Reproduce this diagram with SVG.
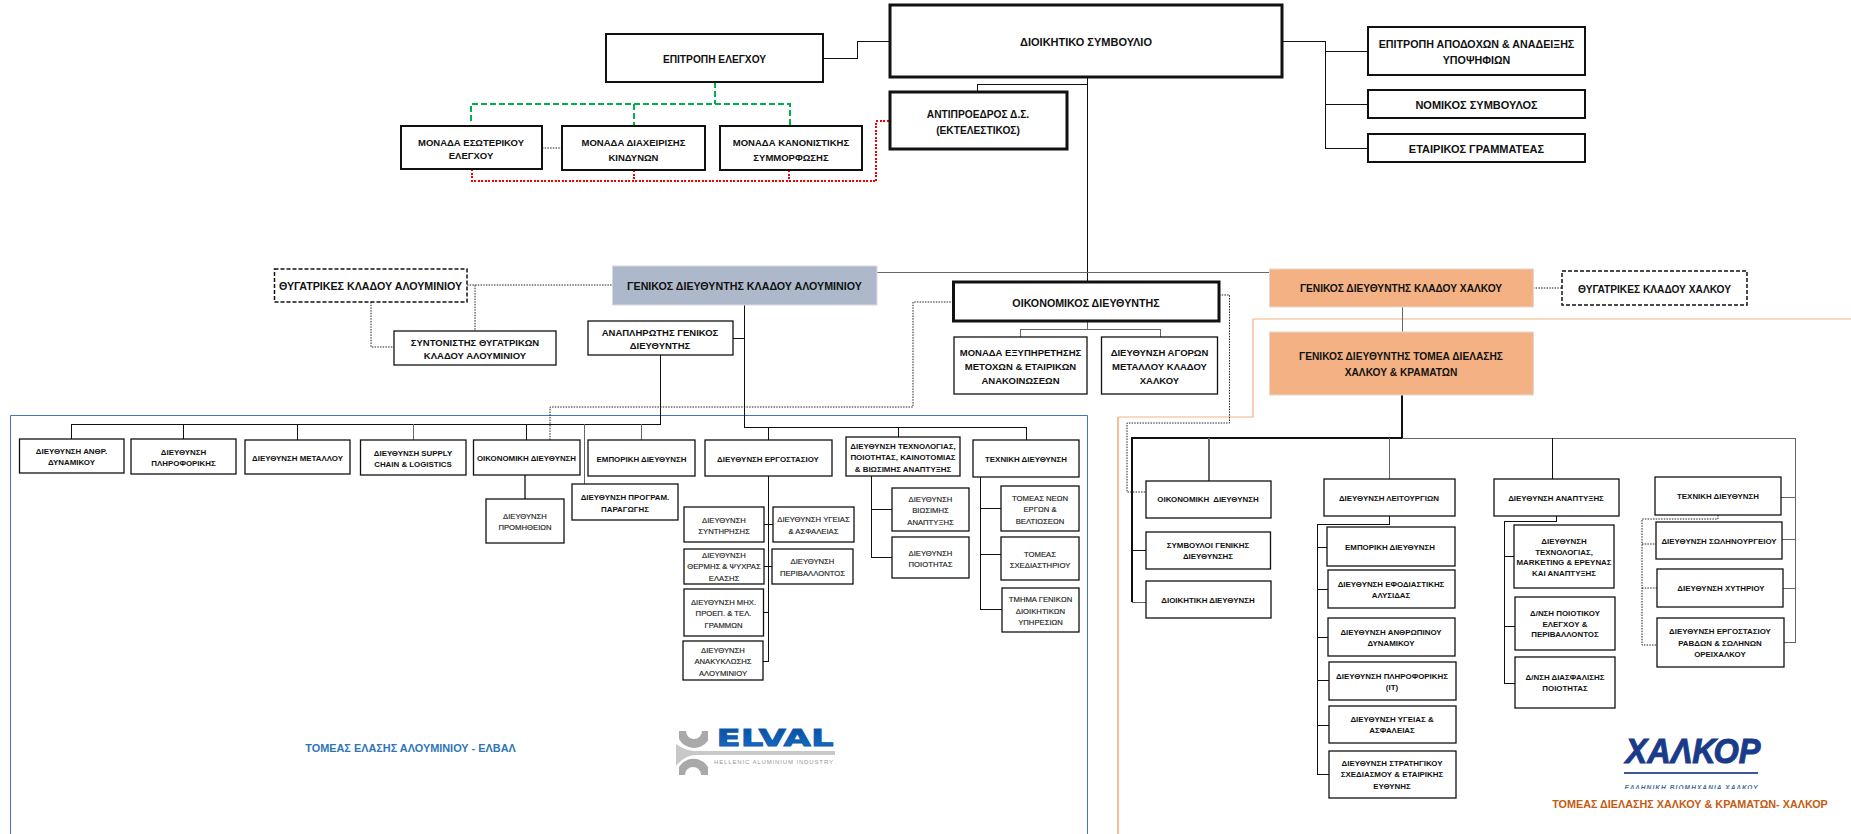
<svg xmlns="http://www.w3.org/2000/svg" width="1851" height="834" viewBox="0 0 1851 834">
<style>
text{font-family:"Liberation Sans",Arial,sans-serif;text-anchor:middle;dominant-baseline:central;fill:#111}
.n rect{fill:#fff;stroke:#111;stroke-width:1.3}
.th rect{stroke-width:3}
.md rect{stroke-width:2}
.da rect{stroke-dasharray:4 2;stroke-width:1.5}
.o rect{fill:#f4b183;stroke:#e4d8d0;stroke-width:1}
.a rect{fill:#adb9ca;stroke:#d5dae2;stroke-width:1}
.s11 text{font-size:11px;font-weight:700}
.s107 text{font-size:10.700px;font-weight:700}
.s10 text{font-size:10.200px;font-weight:700}
.s9 text{font-size:9.500px;font-weight:700}
.s8 text{font-size:7.900px;font-weight:700}
.s75 text{font-size:7.700px;fill:#222;stroke:#222;stroke-width:.15}
#connectors path{fill:none;stroke:#111;stroke-width:1;shape-rendering:crispEdges}
#connectors .g{stroke:#666;stroke-width:1}
#connectors .k{stroke-width:2}
#connectors .d{stroke:#222;stroke-width:1;stroke-dasharray:1.5 1.2;shape-rendering:auto}
#connectors .gr{stroke:#00b050;stroke-width:2;stroke-dasharray:6 3}
#connectors .r{stroke:#f00000;stroke-width:2;stroke-dasharray:2 1.5}
</style>
<defs>
<linearGradient id="elvalBlue" x1="0" y1="0" x2="0" y2="1"><stop offset="0" stop-color="#0a4a9c"/><stop offset="1" stop-color="#1670c8"/></linearGradient>
<clipPath id="halkorClip"><rect x="1600" y="730" width="180" height="59"/></clipPath>
</defs>
<g id="frames" fill="none">
<path d="M10.500 834V415.500H1087.500V834" stroke="#4472c4" stroke-width="1"/>
<path d="M1851 319H1253V417H1118" stroke="#f4b183" stroke-width="1.2"/>
<path d="M1118 417V834" stroke="#ed7d31" stroke-width="1"/>
</g>
<g id="connectors">
<path d="M823 58H857.500V41H890"/>
<path d="M1087 77V282M977 92V84.500H1087"/>
<path d="M1282 41.500H1325V148H1368M1325 51H1368M1325 104H1368"/>
<path d="M877 272H1269" class="g"/>
<path d="M1402.500 307V332" class="g"/>
<path d="M1402 395V438" class="k"/>
<path d="M1087 321V329M1020 337V329H1160V337" class="g"/>
<path d="M744.500 305V427.500H1026.500V440M733 338H744.500M768 427.500V440M898 427.500V437"/>
<path d="M660 355V424H71V439M183 424V439M297 424V440M526 424V440"/>
<path d="M413 424V440M584 424V484M641 424V440" class="g"/>
<path d="M525 475V499" class="g" style="stroke-width:2"/>
<path d="M768 476V661H763M764 524H773M764 566H772M764 612H768"/>
<path d="M871 476V557H892M871 509H892"/>
<path d="M980 477V609H1002M980 508H1001M980 554H1001"/>
<path d="M1132 602V438H1402" class="k"/>
<path d="M1132 602H1146" class="g"/>
<path d="M1132 550H1146"/>
<path d="M1402 438H1795V642H1784M1781 497H1795M1782 539H1795M1783 588H1795" class="g"/>
<path d="M1209 438V481" class="g" style="stroke-width:2"/>
<path d="M1389 438V479" class="g"/>
<path d="M1552 438V479"/>
<path d="M1389 516V524H1317V774H1329M1317 547H1327M1317 589H1328M1317 637H1328M1317 680H1329M1317 725H1329"/>
<path d="M1556 516V521H1504V683H1515M1504 556H1514M1504 626H1515"/>
<path d="M714.500 82V104M471 121V104H790V127M634 104V127" class="gr"/>
<path d="M472 169V181H876V121H890M634 170V181M789 170V181" class="r"/>
<path d="M542 148H562" class="d"/>
<path d="M467 285H612.500M475 285V331M371 302V347H394" class="d"/>
<path d="M953.500 302H913V407H550V440" class="d"/>
<path d="M1219 295H1229.500V423H1127V492H1146" class="d"/>
<path d="M1533 288H1562" class="d"/>
<path d="M1718 515V519H1642V645H1657M1642 544H1656M1642 588H1657" class="d"/>
</g>
<g id="board" class="n th s11"><rect x="890" y="5" width="392" height="72"/><text x="1086" y="42">ΔΙΟΙΚΗΤΙΚΟ ΣΥΜΒΟΥΛΙΟ</text></g>
<g id="audit-committee" class="n md s10"><rect x="606" y="34" width="217" height="48"/><text x="714.500" y="59">ΕΠΙΤΡΟΠΗ ΕΛΕΓΧΟΥ</text></g>
<g id="internal-audit" class="n md s9"><rect x="401" y="126" width="141" height="43"/><text x="471" y="142">ΜΟΝΑΔΑ ΕΣΩΤΕΡΙΚΟΥ</text><text x="471" y="155.500">ΕΛΕΓΧΟΥ</text></g>
<g id="risk" class="n md s9"><rect x="562" y="126" width="143" height="44"/><text x="633.500" y="142">ΜΟΝΑΔΑ ΔΙΑΧΕΙΡΙΣΗΣ</text><text x="633.500" y="157">ΚΙΝΔΥΝΩΝ</text></g>
<g id="compliance" class="n md s9"><rect x="720" y="126" width="142" height="44"/><text x="791" y="142">ΜΟΝΑΔΑ ΚΑΝΟΝΙΣΤΙΚΗΣ</text><text x="791" y="157">ΣΥΜΜΟΡΦΩΣΗΣ</text></g>
<g id="vice-chair" class="n th s10"><rect x="890" y="92" width="177" height="57"/><text x="978" y="114">ΑΝΤΙΠΡΟΕΔΡΟΣ Δ.Σ.</text><text x="978" y="130">(ΕΚΤΕΛΕΣΤΙΚΟΣ)</text></g>
<g id="remuneration" class="n md s107"><rect x="1368" y="27" width="217" height="48"/><text x="1476.500" y="44">ΕΠΙΤΡΟΠΗ ΑΠΟΔΟΧΩΝ &amp; ΑΝΑΔΕΙΞΗΣ</text><text x="1476.500" y="60">ΥΠΟΨΗΦΙΩΝ</text></g>
<g id="legal" class="n md s11"><rect x="1368" y="90" width="217" height="28"/><text x="1476.500" y="105">ΝΟΜΙΚΟΣ ΣΥΜΒΟΥΛΟΣ</text></g>
<g id="secretary" class="n md s11"><rect x="1368" y="134" width="217" height="28"/><text x="1476.500" y="149">ΕΤΑΙΡΙΚΟΣ ΓΡΑΜΜΑΤΕΑΣ</text></g>
<g id="gm-aluminium" class="a s107"><rect x="612.500" y="266" width="264.500" height="39"/><text x="744.500" y="286">ΓΕΝΙΚΟΣ ΔΙΕΥΘΥΝΤΗΣ ΚΛΑΔΟΥ ΑΛΟΥΜΙΝΙΟΥ</text></g>
<g id="subs-aluminium" class="n da s107"><rect x="274.500" y="269" width="192.500" height="33"/><text x="370.500" y="286">ΘΥΓΑΤΡΙΚΕΣ ΚΛΑΔΟΥ ΑΛΟΥΜΙΝΙΟΥ</text></g>
<g id="subs-coordinator" class="n s9"><rect x="394" y="331" width="162" height="34"/><text x="475" y="342">ΣΥΝΤΟΝΙΣΤΗΣ ΘΥΓΑΤΡΙΚΩΝ</text><text x="475" y="355">ΚΛΑΔΟΥ ΑΛΟΥΜΙΝΙΟΥ</text></g>
<g id="deputy-gm" class="n s9"><rect x="588" y="321" width="145" height="34"/><text x="660" y="332">ΑΝΑΠΛΗΡΩΤΗΣ ΓΕΝΙΚΟΣ</text><text x="660" y="345">ΔΙΕΥΘΥΝΤΗΣ</text></g>
<g id="cfo" class="n th s107"><rect x="953.500" y="282" width="265.500" height="39"/><text x="1086" y="303">ΟΙΚΟΝΟΜΙΚΟΣ ΔΙΕΥΘΥΝΤΗΣ</text></g>
<g id="shareholders" class="n s9"><rect x="954" y="337" width="133" height="57"/><text x="1020.500" y="352">ΜΟΝΑΔΑ ΕΞΥΠΗΡΕΤΗΣΗΣ</text><text x="1020.500" y="366">ΜΕΤΟΧΩΝ &amp; ΕΤΑΙΡΙΚΩΝ</text><text x="1020.500" y="380">ΑΝΑΚΟΙΝΩΣΕΩΝ</text></g>
<g id="metal-markets" class="n s9"><rect x="1101.500" y="337" width="116" height="57"/><text x="1159.500" y="352">ΔΙΕΥΘΥΝΣΗ ΑΓΟΡΩΝ</text><text x="1159.500" y="366">ΜΕΤΑΛΛΟΥ ΚΛΑΔΟΥ</text><text x="1159.500" y="380">ΧΑΛΚΟΥ</text></g>
<g id="gm-copper" class="o s10"><rect x="1269.500" y="269" width="264" height="38"/><text x="1401" y="288">ΓΕΝΙΚΟΣ ΔΙΕΥΘΥΝΤΗΣ ΚΛΑΔΟΥ ΧΑΛΚΟΥ</text></g>
<g id="gm-extrusion" class="o s10"><rect x="1269.500" y="332" width="264" height="63"/><text x="1401" y="356">ΓΕΝΙΚΟΣ ΔΙΕΥΘΥΝΤΗΣ ΤΟΜΕΑ ΔΙΕΛΑΣΗΣ</text><text x="1401" y="372">ΧΑΛΚΟΥ &amp; ΚΡΑΜΑΤΩΝ</text></g>
<g id="subs-copper" class="n da s10"><rect x="1562" y="271" width="185" height="34"/><text x="1654.500" y="289">ΘΥΓΑΤΡΙΚΕΣ ΚΛΑΔΟΥ ΧΑΛΚΟΥ</text></g>

<g id="al-hr" class="n s8"><rect x="19.500" y="439" width="104.500" height="34"/><text x="71.500" y="451">ΔΙΕΥΘΥΝΣΗ ΑΝΘΡ.</text><text x="71.500" y="462">ΔΥΝΑΜΙΚΟΥ</text></g>
<g id="al-it" class="n s8"><rect x="131" y="439" width="105" height="35"/><text x="183.500" y="452">ΔΙΕΥΘΥΝΣΗ</text><text x="183.500" y="463">ΠΛΗΡΟΦΟΡΙΚΗΣ</text></g>
<g id="al-metal" class="n s8"><rect x="245" y="440" width="105" height="34"/><text x="297.500" y="458">ΔΙΕΥΘΥΝΣΗ ΜΕΤΑΛΛΟΥ</text></g>
<g id="al-supply" class="n s8"><rect x="360.500" y="440" width="105.500" height="35"/><text x="413" y="453">ΔΙΕΥΘΥΝΣΗ SUPPLY</text><text x="413" y="464">CHAIN &amp; LOGISTICS</text></g>
<g id="al-finance" class="n s8"><rect x="473.500" y="440" width="106.500" height="35"/><text x="526.500" y="458">ΟΙΚΟΝΟΜΙΚΗ ΔΙΕΥΘΥΝΣΗ</text></g>
<g id="al-procurement" class="n s75"><rect x="486" y="499" width="78" height="44"/><text x="525" y="516">ΔΙΕΥΘΥΝΣΗ</text><text x="525" y="527">ΠΡΟΜΗΘΕΙΩΝ</text></g>
<g id="al-planning" class="n s8"><rect x="572" y="484" width="106" height="36"/><text x="625" y="497">ΔΙΕΥΘΥΝΣΗ ΠΡΟΓΡΑΜ.</text><text x="625" y="509">ΠΑΡΑΓΩΓΗΣ</text></g>
<g id="al-sales" class="n s8"><rect x="588" y="440" width="107" height="36"/><text x="641.500" y="459">ΕΜΠΟΡΙΚΗ ΔΙΕΥΘΥΝΣΗ</text></g>
<g id="al-plant" class="n s8"><rect x="705" y="440" width="127" height="36"/><text x="768" y="459">ΔΙΕΥΘΥΝΣΗ ΕΡΓΟΣΤΑΣΙΟΥ</text></g>
<g id="al-tech" class="n s8"><rect x="846" y="437" width="114" height="39"/><text x="903" y="446">ΔΙΕΥΘΥΝΣΗ ΤΕΧΝΟΛΟΓΙΑΣ,</text><text x="903" y="457">ΠΟΙΟΤΗΤΑΣ, ΚΑΙΝΟΤΟΜΙΑΣ</text><text x="903" y="469">&amp; ΒΙΩΣΙΜΗΣ ΑΝΑΠΤΥΞΗΣ</text></g>
<g id="al-technical" class="n s8"><rect x="973" y="440" width="106" height="37"/><text x="1026" y="459">ΤΕΧΝΙΚΗ ΔΙΕΥΘΥΝΣΗ</text></g>
<g id="al-maintenance" class="n s75"><rect x="684" y="507" width="80" height="35"/><text x="724" y="520">ΔΙΕΥΘΥΝΣΗ</text><text x="724" y="531">ΣΥΝΤΗΡΗΣΗΣ</text></g>
<g id="al-rolling" class="n s75"><rect x="684" y="549" width="80" height="35"/><text x="724" y="555">ΔΙΕΥΘΥΝΣΗ</text><text x="724" y="566">ΘΕΡΜΗΣ &amp; ΨΥΧΡΑΣ</text><text x="724" y="578">ΕΛΑΣΗΣ</text></g>
<g id="al-mech" class="n s75"><rect x="684" y="589" width="79.500" height="47"/><text x="723.500" y="602">ΔΙΕΥΘΥΝΣΗ ΜΗΧ.</text><text x="723.500" y="613">ΠΡΟΕΠ. &amp; ΤΕΛ.</text><text x="723.500" y="625">ΓΡΑΜΜΩΝ</text></g>
<g id="al-recycling" class="n s75"><rect x="683" y="641" width="80" height="39"/><text x="723" y="650">ΔΙΕΥΘΥΝΣΗ</text><text x="723" y="661">ΑΝΑΚΥΚΛΩΣΗΣ</text><text x="723" y="673">ΑΛΟΥΜΙΝΙΟΥ</text></g>
<g id="al-safety" class="n s75"><rect x="773" y="507" width="81" height="35"/><text x="813.500" y="519">ΔΙΕΥΘΥΝΣΗ ΥΓΕΙΑΣ</text><text x="813.500" y="531">&amp; ΑΣΦΑΛΕΙΑΣ</text></g>
<g id="al-environment" class="n s75"><rect x="772" y="549" width="81" height="35"/><text x="812.500" y="561">ΔΙΕΥΘΥΝΣΗ</text><text x="812.500" y="573">ΠΕΡΙΒΑΛΛΟΝΤΟΣ</text></g>
<g id="al-sustainability" class="n s75"><rect x="892" y="488" width="77" height="43"/><text x="930.500" y="499">ΔΙΕΥΘΥΝΣΗ</text><text x="930.500" y="510">ΒΙΩΣΙΜΗΣ</text><text x="930.500" y="522">ΑΝΑΠΤΥΞΗΣ</text></g>
<g id="al-quality" class="n s75"><rect x="892" y="537" width="77" height="41"/><text x="930.500" y="553">ΔΙΕΥΘΥΝΣΗ</text><text x="930.500" y="564">ΠΟΙΟΤΗΤΑΣ</text></g>
<g id="al-projects" class="n s75"><rect x="1001" y="486" width="78" height="45"/><text x="1040" y="498">ΤΟΜΕΑΣ ΝΕΩΝ</text><text x="1040" y="509">ΕΡΓΩΝ &amp;</text><text x="1040" y="521">ΒΕΛΤΙΩΣΕΩΝ</text></g>
<g id="al-design" class="n s75"><rect x="1001" y="537" width="78" height="43"/><text x="1040" y="554">ΤΟΜΕΑΣ</text><text x="1040" y="565">ΣΧΕΔΙΑΣΤΗΡΙΟΥ</text></g>
<g id="al-general" class="n s75"><rect x="1002" y="588" width="77" height="44"/><text x="1040.500" y="599">ΤΜΗΜΑ ΓΕΝΙΚΩΝ</text><text x="1040.500" y="611">ΔΙΟΙΚΗΤΙΚΩΝ</text><text x="1040.500" y="622">ΥΠΗΡΕΣΙΩΝ</text></g>

<g id="cu-finance" class="n s8"><rect x="1146" y="481" width="125" height="37"/><text x="1208" y="499" xml:space="preserve">ΟΙΚΟΝΟΜΙΚΗ  ΔΙΕΥΘΥΝΣΗ</text></g>
<g id="cu-advisors" class="n s8"><rect x="1146" y="532" width="124.500" height="37"/><text x="1208" y="545">ΣΥΜΒΟΥΛΟΙ ΓΕΝΙΚΗΣ</text><text x="1208" y="556">ΔΙΕΥΘΥΝΣΗΣ</text></g>
<g id="cu-admin" class="n s8"><rect x="1146" y="581" width="125" height="37"/><text x="1208" y="600">ΔΙΟΙΚΗΤΙΚΗ ΔΙΕΥΘΥΝΣΗ</text></g>
<g id="cu-operations" class="n s8"><rect x="1324" y="479" width="131" height="37"/><text x="1389" y="498">ΔΙΕΥΘΥΝΣΗ ΛΕΙΤΟΥΡΓΙΩΝ</text></g>
<g id="cu-sales" class="n s8"><rect x="1327" y="527" width="128" height="39"/><text x="1390" y="547">ΕΜΠΟΡΙΚΗ ΔΙΕΥΘΥΝΣΗ</text></g>
<g id="cu-supply" class="n s8"><rect x="1328" y="570" width="127" height="38"/><text x="1391" y="584">ΔΙΕΥΘΥΝΣΗ ΕΦΟΔΙΑΣΤΙΚΗΣ</text><text x="1391" y="595">ΑΛΥΣΙΔΑΣ</text></g>
<g id="cu-hr" class="n s8"><rect x="1328" y="618" width="127" height="38"/><text x="1391" y="632">ΔΙΕΥΘΥΝΣΗ ΑΝΘΡΩΠΙΝΟΥ</text><text x="1391" y="643">ΔΥΝΑΜΙΚΟΥ</text></g>
<g id="cu-it" class="n s8"><rect x="1329" y="662" width="127" height="38"/><text x="1392" y="676">ΔΙΕΥΘΥΝΣΗ ΠΛΗΡΟΦΟΡΙΚΗΣ</text><text x="1392" y="687">(ΙΤ)</text></g>
<g id="cu-safety" class="n s8"><rect x="1329" y="706" width="127" height="37"/><text x="1392" y="719">ΔΙΕΥΘΥΝΣΗ ΥΓΕΙΑΣ &amp;</text><text x="1392" y="730">ΑΣΦΑΛΕΙΑΣ</text></g>
<g id="cu-strategy" class="n s8"><rect x="1329" y="751" width="127" height="47"/><text x="1392" y="763">ΔΙΕΥΘΥΝΣΗ ΣΤΡΑΤΗΓΙΚΟΥ</text><text x="1392" y="774">ΣΧΕΔΙΑΣΜΟΥ &amp; ΕΤΑΙΡΙΚΗΣ</text><text x="1392" y="786">ΕΥΘΥΝΗΣ</text></g>
<g id="cu-development" class="n s8"><rect x="1494" y="479" width="125" height="37"/><text x="1556" y="498">ΔΙΕΥΘΥΝΣΗ ΑΝΑΠΤΥΞΗΣ</text></g>
<g id="cu-tech" class="n s8"><rect x="1514" y="525" width="100" height="63"/><text x="1564" y="541">ΔΙΕΥΘΥΝΣΗ</text><text x="1564" y="552">ΤΕΧΝΟΛΟΓΙΑΣ,</text><text x="1564" y="562">MARKETING &amp; ΕΡΕΥΝΑΣ</text><text x="1564" y="573">ΚΑΙ ΑΝΑΠΤΥΞΗΣ</text></g>
<g id="cu-qc" class="n s8"><rect x="1515" y="597" width="100" height="53"/><text x="1565" y="613">Δ/ΝΣΗ ΠΟΙΟΤΙΚΟΥ</text><text x="1565" y="624">ΕΛΕΓΧΟΥ &amp;</text><text x="1565" y="634">ΠΕΡΙΒΑΛΛΟΝΤΟΣ</text></g>
<g id="cu-qa" class="n s8"><rect x="1515" y="657" width="100" height="51"/><text x="1565" y="677">Δ/ΝΣΗ ΔΙΑΣΦΑΛΙΣΗΣ</text><text x="1565" y="688">ΠΟΙΟΤΗΤΑΣ</text></g>
<g id="cu-technical" class="n s8"><rect x="1655" y="477" width="126" height="38"/><text x="1718" y="496">ΤΕΧΝΙΚΗ ΔΙΕΥΘΥΝΣΗ</text></g>
<g id="cu-tube" class="n s8"><rect x="1656" y="522" width="126" height="37"/><text x="1719" y="541">ΔΙΕΥΘΥΝΣΗ ΣΩΛΗΝΟΥΡΓΕΙΟΥ</text></g>
<g id="cu-foundry" class="n s8"><rect x="1657" y="569" width="126" height="38"/><text x="1721" y="588">ΔΙΕΥΘΥΝΣΗ ΧΥΤΗΡΙΟΥ</text></g>
<g id="cu-brass" class="n s8"><rect x="1657" y="618" width="127" height="49"/><text x="1720" y="631">ΔΙΕΥΘΥΝΣΗ ΕΡΓΟΣΤΑΣΙΟΥ</text><text x="1720" y="643">ΡΑΒΔΩΝ &amp; ΣΩΛΗΝΩΝ</text><text x="1720" y="654">ΟΡΕΙΧΑΛΚΟΥ</text></g>

<g id="labels">
<text x="410.500" y="748" style="font-size:10.900px;font-weight:700;fill:#2e75b6">ΤΟΜΕΑΣ ΕΛΑΣΗΣ ΑΛΟΥΜΙΝΙΟΥ - ΕΛΒΑΛ</text>
<text x="1690" y="804" style="font-size:10.800px;font-weight:700;fill:#c55a11">ΤΟΜΕΑΣ ΔΙΕΛΑΣΗΣ ΧΑΛΚΟΥ &amp; ΚΡΑΜΑΤΩΝ- ΧΑΛΚΟΡ</text>
</g>
<g id="logo-elval">
<path d="M676 744Q684 750 694 751H835V755H694Q684 756 676 766Z" fill="#c8c8c8"/>
<path d="M679 731H686A8 8 0 0 0 702 731H708V740.600A17 17 0 0 1 679 739Z" fill="#a9a9a9"/>
<path d="M679 775H685A8 8 0 0 1 701 775H708V767A17 17 0 0 0 679 767Z" fill="#a9a9a9"/>
<text x="775" y="746" style="font-family:'DejaVu Sans',sans-serif;font-size:23px;font-weight:700;fill:url(#elvalBlue);stroke:#0f5cb0;stroke-width:.8;dominant-baseline:auto" textLength="117" lengthAdjust="spacingAndGlyphs">ELVAL</text>
<text x="773.500" y="762" style="font-size:6px;fill:#999" textLength="119">HELLENIC ALUMINIUM INDUSTRY</text>
</g>
<g id="logo-halkor">
<text x="1693" y="763" style="font-size:35px;font-weight:700;font-style:italic;fill:#1a3a8a;stroke:#1a3a8a;stroke-width:1;dominant-baseline:auto" textLength="135" lengthAdjust="spacingAndGlyphs">ΧΑΛΚΟΡ</text>
<rect x="1624" y="772" width="134" height="2" fill="#3a5a9a"/>
<g clip-path="url(#halkorClip)"><text x="1691" y="787" style="font-size:6.500px;font-weight:700;font-style:italic;fill:#4a6a9a" textLength="133">ΕΛΛΗΝΙΚΗ ΒΙΟΜΗΧΑΝΙΑ ΧΑΛΚΟΥ</text></g>
</g>
</svg>
